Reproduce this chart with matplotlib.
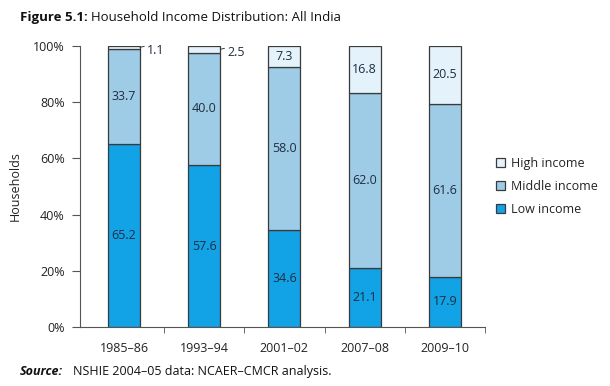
import matplotlib.pyplot as plt
import numpy as np

plt.rcParams['font.family'] = ['Open Sans', 'DejaVu Sans']

# data
years = ["1985\u201386", "1993\u201394", "2001\u201302", "2007\u201308", "2009\u201310"]
low = [65.2, 57.6, 34.6, 21.1, 17.9]
middle = [33.7, 40.0, 58.0, 62.0, 61.6]
high = [1.1, 2.5, 7.3, 16.8, 20.5]

c_low = '#12a2e6'
c_mid = '#9ecbe5'
c_high = '#e4f2fb'
c_edge = '#3a3a3a'
c_txt = '#1f2e40'

fig = plt.figure(figsize=(6.10, 3.86), dpi=100)
ax = fig.add_axes([0.131, 0.153, 0.664, 0.728])

x = np.arange(len(years))
w = 0.4
low_a = np.array(low)
mid_a = np.array(middle)
high_a = np.array(high)

ax.bar(x, low_a, w, color=c_low, edgecolor=c_edge, linewidth=0.9, label='Low income')
ax.bar(x, mid_a, w, bottom=low_a, color=c_mid, edgecolor=c_edge, linewidth=0.9, label='Middle income')
ax.bar(x, high_a, w, bottom=low_a + mid_a, color=c_high, edgecolor=c_edge, linewidth=0.9, label='High income')

# value labels
for i in range(len(years)):
    ax.text(x[i], low_a[i] / 2, f"{low[i]:.1f}", ha='center', va='center', fontsize=9, color=c_txt)
    ax.text(x[i], low_a[i] + mid_a[i] / 2, f"{middle[i]:.1f}", ha='center', va='center', fontsize=9, color=c_txt)
    if high[i] > 5:
        ax.text(x[i], low_a[i] + mid_a[i] + high_a[i] / 2, f"{high[i]:.1f}", ha='center', va='center',
                fontsize=9, color=c_txt)
    else:
        ax.annotate(f"{high[i]:.1f}", xy=(x[i] + w / 2, 100 - high[i] / 2), xytext=(5, -2),
                    textcoords='offset points', ha='left', va='center', fontsize=9, color=c_txt,
                    arrowprops=dict(arrowstyle='-', color=c_edge, lw=0.7, shrinkA=0, shrinkB=0,
                                    connectionstyle='arc3,rad=0.3'))

ax.set_xlim(-0.55, 4.5)
ax.set_ylim(0, 100)
ax.set_yticks([0, 20, 40, 60, 80, 100])
ax.set_yticklabels(["0%", "20%", "40%", "60%", "80%", "100%"])
ax.set_xticks(x)
ax.set_xticklabels(years)
ax.set_xticks(np.arange(0.5, 5, 1), minor=True)
ax.tick_params(axis='x', which='major', length=0, pad=11, labelsize=9, labelcolor='#222222')
ax.tick_params(axis='x', which='minor', length=4, color='#555555', direction='out')
ax.tick_params(axis='y', length=6, color='#555555', labelsize=9, labelcolor='#222222', pad=5)

for s in ['top', 'right']:
    ax.spines[s].set_visible(False)
ax.spines['left'].set_color('#555555')
ax.spines['bottom'].set_color('#555555')
ax.set_ylabel("Households", fontsize=9, color='#222222', labelpad=8)

h, l = ax.get_legend_handles_labels()
leg = ax.legend(h[::-1], l[::-1], loc='center left', bbox_to_anchor=(1.0, 0.5), frameon=False,
                fontsize=9, handlelength=0.7, handleheight=0.7, handletextpad=0.5, labelspacing=0.8)
for t in leg.get_texts():
    t.set_color('#222222')

fig.text(0.033, 0.955, "Figure 5.1:", fontsize=9.5, fontweight='bold', va='center', color='#111111')
fig.text(0.149, 0.955, "Household Income Distribution: All India", fontsize=9.5, va='center', color='#111111')
fig.text(0.033, 0.038, "Source:", fontsize=9, fontweight='bold', style='italic', va='center', color='#111111')
fig.text(0.12, 0.038, "NSHIE 2004\u201305 data: NCAER\u2013CMCR analysis.", fontsize=9, va='center', color='#111111')

fig.savefig("out.png", dpi=100)
